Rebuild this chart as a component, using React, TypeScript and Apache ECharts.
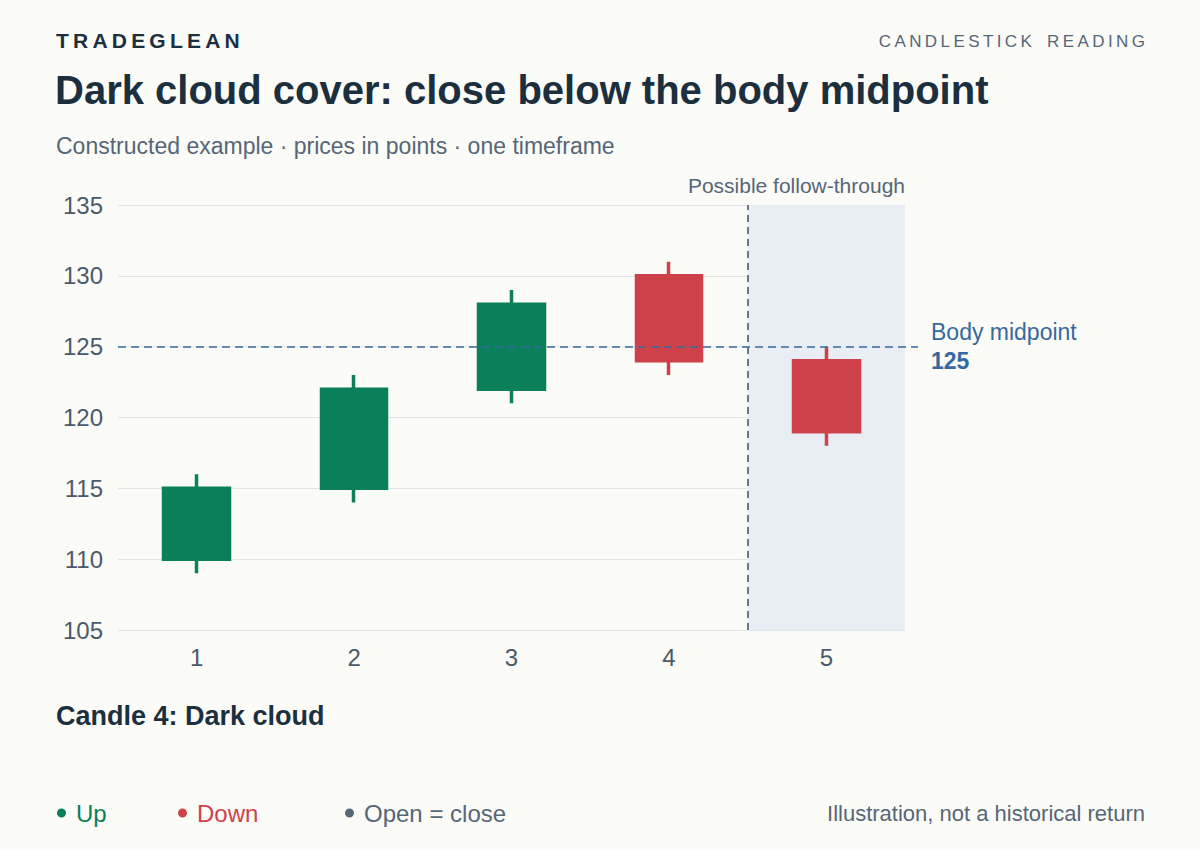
import React, { useEffect, useRef } from 'react';
import * as echarts from 'echarts';

const candles = ['1', '2', '3', '4', '5'];
// [open, close, low, high]
const ohlc = [
  [110, 115, 109, 116],
  [115, 122, 114, 123],
  [122, 128, 121, 129],
  [130, 124, 123, 131],
  [124, 119, 118, 125],
];
const midpoint = 125;
const followStart = 4.5;
const followEnd = 5.5;
const yTicks = { min: 105, max: 135, step: 5 };
const legendItems = ['Up', 'Down', 'Open = close'];

const FONT = "'Liberation Sans', Arial, Helvetica, sans-serif";
const INK = '#1b2f3f';
const MUTED = '#566676';
const UP = '#0a7f5a';
const DOWN = '#cf414a';
const FLAT = '#566676';
const BLUE = '#36699f';

// letter-spaced caps with thin spaces
const spaced = (s: string) => s.split('').join('\u2009');

const App: React.FC = () => {
  const chartRef = useRef<HTMLDivElement>(null);

  useEffect(() => {
    document.body.style.margin = '0';
    if (!chartRef.current) return;
    const chart = echarts.init(chartRef.current, undefined, { renderer: 'svg' });

    const legendColors = [UP, DOWN, FLAT];
    const legendX = [57, 178, 345];

    const option: echarts.EChartsOption = {
      animation: false,
      backgroundColor: '#fbfbf8',
      textStyle: { fontFamily: FONT },
      grid: [
        { left: 118, right: 295, top: 205, bottom: 220 },
        { left: 118, right: 282, top: 205, bottom: 220, show: false },
      ],
      xAxis: [
        {
          type: 'category',
          data: candles,
          gridIndex: 0,
          axisLine: { show: false },
          axisTick: { show: false },
          axisLabel: { color: '#4a5a6a', fontSize: 24, margin: 15 },
        },
        { type: 'value', gridIndex: 0, min: 0.5, max: 5.5, show: false },
        { type: 'value', gridIndex: 1, min: 0, max: 1, show: false },
      ],
      yAxis: [
        {
          type: 'value',
          gridIndex: 0,
          min: yTicks.min,
          max: yTicks.max,
          interval: yTicks.step,
          axisLine: { show: false },
          axisTick: { show: false },
          axisLabel: { color: '#4a5a6a', fontSize: 24, margin: 15 },
          splitLine: { lineStyle: { color: '#e2e6eb', width: 1.2 } },
        },
        {
          type: 'value',
          gridIndex: 1,
          min: yTicks.min,
          max: yTicks.max,
          interval: yTicks.step,
          show: false,
        },
      ],
      series: [
        {
          type: 'line',
          xAxisIndex: 1,
          yAxisIndex: 0,
          data: [],
          silent: true,
          markArea: {
            silent: true,
            itemStyle: { color: '#e9eef5' },
            data: [[{ xAxis: followStart }, { xAxis: followEnd }]],
          },
          markLine: {
            silent: true,
            symbol: 'none',
            data: [
              {
                xAxis: followStart,
                lineStyle: { color: '#4a5a6a', type: [7, 5], width: 1.6 },
                label: { show: false },
              },
            ],
          },
        },
        {
          type: 'line',
          xAxisIndex: 2,
          yAxisIndex: 1,
          data: [],
          silent: true,
          markLine: {
            silent: true,
            symbol: 'none',
            data: [
              {
                yAxis: midpoint,
                lineStyle: { color: BLUE, type: [8, 5], width: 1.6 },
                label: {
                  show: true,
                  position: 'end',
                  distance: 13,
                  formatter: '{a|Body midpoint}\n{b|' + midpoint + '}',
                  rich: {
                    a: { color: BLUE, fontSize: 23, fontFamily: FONT, lineHeight: 29 },
                    b: { color: BLUE, fontSize: 23, fontWeight: 'bold', fontFamily: FONT, lineHeight: 29 },
                  },
                },
              },
            ],
          },
        },
        {
          type: 'candlestick',
          xAxisIndex: 0,
          yAxisIndex: 0,
          data: ohlc,
          barWidth: 66,
          itemStyle: {
            color: UP,
            color0: DOWN,
            borderColor: UP,
            borderColor0: DOWN,
            borderWidth: 3.5,
          },
        },
      ],
      graphic: [
        {
          type: 'text',
          x: 56,
          y: 40,
          style: { text: spaced('TRADEGLEAN'), fill: INK, font: `bold 21px ${FONT}`, align: 'left', verticalAlign: 'middle' },
        },
        {
          type: 'text',
          x: 1145,
          y: 41,
          style: {
            text: spaced('CANDLESTICK') + '\u2009\u2002\u2009' + spaced('READING'),
            fill: MUTED,
            font: `17px ${FONT}`,
            align: 'right',
            verticalAlign: 'middle',
          },
        },
        {
          type: 'text',
          x: 55,
          y: 90,
          style: {
            text: 'Dark cloud cover: close below the body midpoint',
            fill: INK,
            font: `bold 40px ${FONT}`,
            align: 'left',
            verticalAlign: 'middle',
          },
        },
        {
          type: 'text',
          x: 56,
          y: 146,
          style: {
            text: 'Constructed example · prices in points · one timeframe',
            fill: MUTED,
            font: `23px ${FONT}`,
            align: 'left',
            verticalAlign: 'middle',
          },
        },
        {
          type: 'text',
          x: 905,
          y: 185,
          style: { text: 'Possible follow-through', fill: MUTED, font: `21px ${FONT}`, align: 'right', verticalAlign: 'middle' },
        },
        {
          type: 'text',
          x: 56,
          y: 716,
          style: { text: 'Candle 4: Dark cloud', fill: INK, font: `bold 27px ${FONT}`, align: 'left', verticalAlign: 'middle' },
        },
        ...legendItems.map((name, i) => ({
          type: 'text' as const,
          x: legendX[i],
          y: 813,
          style: {
            text: `{d| }{t|${name}}`,
            align: 'left' as const,
            verticalAlign: 'middle' as const,
            rich: {
              d: {
                width: 9,
                height: 9,
                borderRadius: 5,
                backgroundColor: legendColors[i],
                fontSize: 4,
              },
              t: { fill: legendColors[i], fontSize: 24, fontFamily: FONT, padding: [0, 0, 0, 10] },
            },
          },
        })),
        {
          type: 'text',
          x: 1145,
          y: 813,
          style: {
            text: 'Illustration, not a historical return',
            fill: MUTED,
            font: `22px ${FONT}`,
            align: 'right',
            verticalAlign: 'middle',
          },
        },
      ],
    };

    chart.setOption(option);
    const handleResize = () => chart.resize();
    window.addEventListener('resize', handleResize);
    return () => {
      window.removeEventListener('resize', handleResize);
      chart.dispose();
    };
  }, []);

  return <div ref={chartRef} style={{ width: '1200px', height: '850px' }} />;
};

export default App;
